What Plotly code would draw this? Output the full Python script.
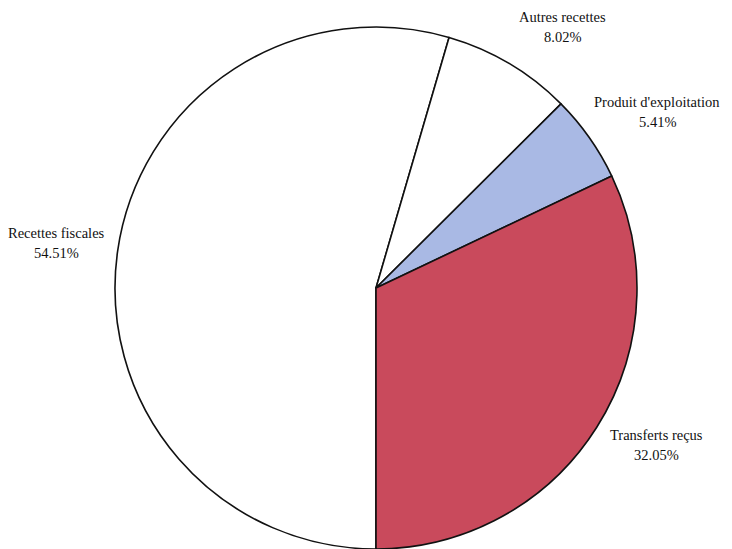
import plotly.graph_objects as go

labels = ["Recettes fiscales", "Autres recettes", "Produit d'exploitation", "Transferts reçus"]
values = [54.51, 8.02, 5.41, 32.05]
colors = ["#ffffff", "#ffffff", "#a9b9e4", "#c94a5c"]

# label centre positions in page pixels (x from left, y from top)
label_pos = [(57, 243), (562, 27), (657, 112), (656, 445)]

OFF = 8  # page body margin
W, H = 732 - OFF, 549 - OFF

cx, cy = 376 - OFF, 288 - OFF
r = H - cy

fig = go.Figure(go.Pie(
    labels=labels,
    values=values,
    sort=False,
    direction="clockwise",
    rotation=180,
    marker=dict(colors=colors, line=dict(color="#111111", width=1.6)),
    textinfo="none",
    hoverinfo="label+percent",
    domain=dict(x=[(cx - r) / W, (cx + r) / W], y=[0.0, 2 * r / H]),
    showlegend=False,
))

annotations = []
font = dict(family="Liberation Serif", size=14.5, color="#111111")
for lab, val, (px, py) in zip(labels, values, label_pos):
    fx, fy = px - OFF, py - OFF
    annotations.append(dict(
        x=fx / W, y=1 - (fy - 10) / H, xref="paper", yref="paper",
        text=lab, showarrow=False, font=font,
        xanchor="center", yanchor="middle",
    ))
    annotations.append(dict(
        x=fx / W, y=1 - (fy + 10) / H, xref="paper", yref="paper",
        text=f"{val:.2f}%", showarrow=False, font=font,
        xanchor="center", yanchor="middle",
    ))

fig.update_layout(
    width=W, height=H,
    margin=dict(l=0, r=0, t=0, b=0),
    paper_bgcolor="white", plot_bgcolor="white",
    annotations=annotations,
)

fig.write_html("out.html")
